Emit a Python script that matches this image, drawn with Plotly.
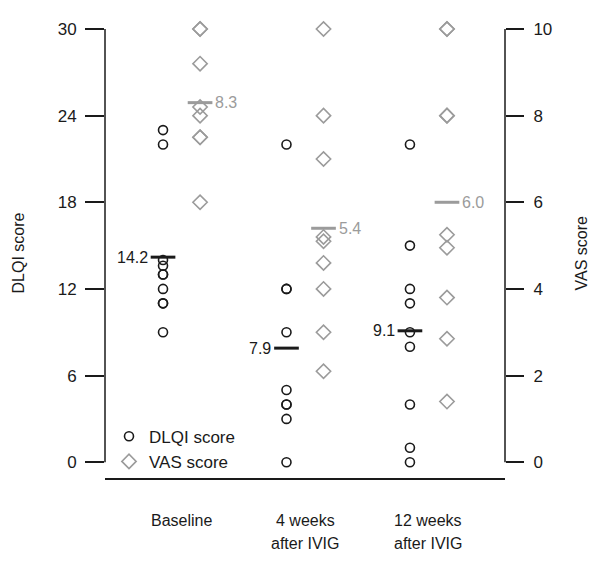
import plotly.graph_objects as go

# ---- data ----
categories = ["Baseline", "4 weeks\nafter IVIG", "12 weeks\nafter IVIG"]
dlqi_baseline = [23, 22, 14, 13.6, 13, 13, 12, 11, 11, 9]
dlqi_4wk = [22, 12, 12, 9, 5, 4, 4, 3, 0]
dlqi_12wk = [22, 15, 12, 11, 9, 8, 4, 1, 0]
vas_baseline = [10, 10, 9.2, 8.2, 8.0, 7.5, 7.5, 6.0]
vas_4wk = [10, 8.0, 7.0, 5.2, 5.1, 4.6, 4.0, 3.0, 2.1]
vas_12wk = [10, 10, 8.0, 8.0, 5.25, 4.95, 3.8, 2.85, 1.4]
dlqi_means = [14.2, 7.9, 9.1]
vas_means = [8.3, 5.4, 6.0]
dlqi_ticks = [0, 6, 12, 18, 24, 30]
vas_ticks = [0, 2, 4, 6, 8, 10]

dlqi_groups = [dlqi_baseline, dlqi_4wk, dlqi_12wk]
vas_groups = [vas_baseline, vas_4wk, vas_12wk]

DARK = "#1a1a1a"
GREY = "#9b9b9b"
FONT = "Liberation Sans, Arial, sans-serif"
OFF = 0.15
HALF = 0.1

fig = go.Figure()

# DLQI points
xs, ys = [], []
for i, g in enumerate(dlqi_groups):
    xs += [i + 1 - OFF] * len(g)
    ys += g
fig.add_trace(go.Scatter(x=xs, y=ys, mode="markers", name="DLQI score",
                         marker=dict(symbol="circle-open", size=9, color=DARK,
                                     line=dict(width=1.6, color=DARK)),
                         cliponaxis=False))

# VAS points
xs, ys = [], []
for i, g in enumerate(vas_groups):
    xs += [i + 1 + OFF] * len(g)
    ys += g
fig.add_trace(go.Scatter(x=xs, y=ys, mode="markers", name="VAS score", yaxis="y2",
                         marker=dict(symbol="diamond-open", size=11, color=GREY,
                                     line=dict(width=1.6, color=GREY)),
                         cliponaxis=False))

# mean lines
mx, my = [], []
for i, m in enumerate(dlqi_means):
    c = i + 1 - OFF
    mx += [c - HALF, c + HALF, None]
    my += [m, m, None]
fig.add_trace(go.Scatter(x=mx, y=my, mode="lines", showlegend=False,
                         line=dict(color=DARK, width=3), hoverinfo="skip"))
mx, my = [], []
for i, m in enumerate(vas_means):
    c = i + 1 + OFF
    mx += [c - HALF, c + HALF, None]
    my += [m, m, None]
fig.add_trace(go.Scatter(x=mx, y=my, mode="lines", showlegend=False, yaxis="y2",
                         line=dict(color=GREY, width=3), hoverinfo="skip"))

annotations = []
for i, m in enumerate(dlqi_means):
    annotations.append(dict(x=i + 1 - OFF - HALF, y=m, xref="x", yref="y",
                            text=f"{m:.1f}", showarrow=False, xanchor="right",
                            yanchor="middle", xshift=-1,
                            font=dict(size=16, color=DARK, family=FONT)))
for i, m in enumerate(vas_means):
    annotations.append(dict(x=i + 1 + OFF + HALF, y=m, xref="x", yref="y2",
                            text=f"{m:.1f}", showarrow=False, xanchor="left",
                            yanchor="middle", xshift=1,
                            font=dict(size=16, color=GREY, family=FONT)))

# category labels (two-line ones split into separate rows)
for i, lab in enumerate(categories):
    for j, line in enumerate(lab.split("\n")):
        annotations.append(dict(x=i + 1, y=-0.0945 - j * 0.051, xref="x", yref="paper",
                                text=line, showarrow=False, xanchor="center",
                                yanchor="middle", borderpad=0,
                                font=dict(size=16, color=DARK, family=FONT)))

# axis titles
annotations.append(dict(x=-0.2175, y=0.5, xref="paper", yref="paper", text="DLQI score",
                        textangle=-90, showarrow=False, xanchor="center", yanchor="middle",
                        font=dict(size=16, color=DARK, family=FONT)))
annotations.append(dict(x=1.19, y=0.5, xref="paper", yref="paper", text="VAS score",
                        textangle=-90, showarrow=False, xanchor="center", yanchor="middle",
                        borderpad=0,
                        font=dict(size=16, color=DARK, family=FONT)))

shapes = [
    dict(type="line", xref="paper", yref="y", x0=0, x1=0, y0=0, y1=30,
         line=dict(color=DARK, width=1.5)),
    dict(type="line", xref="paper", yref="y2", x0=1, x1=1, y0=0, y1=10,
         line=dict(color=DARK, width=1.5)),
]

# page body has an 8px margin, so the figure is shrunk/shifted to compensate
fig.update_layout(
    width=584, height=546,
    margin=dict(l=97, r=87, t=15, b=76),
    paper_bgcolor="white", plot_bgcolor="white",
    font=dict(family=FONT, size=16, color=DARK),
    showlegend=True,
    legend=dict(x=0.01, y=0.132, xanchor="left", yanchor="top",
                bgcolor="rgba(0,0,0,0)", font=dict(size=17, color=DARK, family=FONT),
                itemwidth=30, tracegroupgap=0),
    xaxis=dict(range=[0.38, 3.62], showgrid=False, zeroline=False,
               showline=True, linecolor=DARK, linewidth=1.5,
               showticklabels=False, ticks="", fixedrange=True),
    yaxis=dict(range=[-1.094, 30], tickvals=dlqi_ticks, ticks="outside", ticklen=19,
               tickwidth=1.5, tickcolor=DARK, showgrid=False, zeroline=False,
               showline=False, ticklabelstandoff=5,
               tickfont=dict(size=17, color=DARK, family=FONT)),
    yaxis2=dict(range=[-1.094 / 3, 10], tickvals=vas_ticks, ticks="outside", ticklen=18,
                tickwidth=1.5, tickcolor=DARK, showgrid=False, zeroline=False,
                showline=False, overlaying="y", side="right", ticklabelstandoff=6,
                tickfont=dict(size=17, color=DARK, family=FONT)),
    annotations=annotations,
    shapes=shapes,
)

fig.write_html("out.html")
